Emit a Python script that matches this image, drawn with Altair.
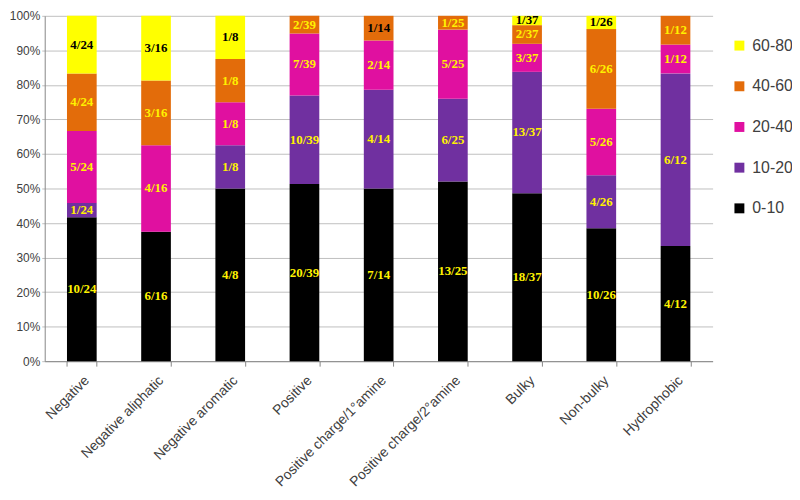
import altair as alt
import pandas as pd

categories = ["Negative", "Negative aliphatic", "Negative aromatic", "Positive",
              "Positive charge/1°amine", "Positive charge/2°amine", "Bulky",
              "Non-bulky", "Hydrophobic"]
series = ["0-10", "10-20", "20-40", "40-60", "60-80"]
s0_10 = [10, 6, 4, 20, 7, 13, 18, 10, 4]
s10_20 = [1, 0, 1, 10, 4, 6, 13, 4, 6]
s20_40 = [5, 4, 1, 7, 2, 5, 3, 5, 1]
s40_60 = [4, 3, 1, 2, 1, 1, 2, 6, 1]
s60_80 = [4, 3, 1, 0, 0, 0, 1, 1, 0]
values = [s0_10, s10_20, s20_40, s40_60, s60_80]
colors = {"0-10": "#000000", "10-20": "#7030A0", "20-40": "#E010A0",
          "40-60": "#E36C0A", "60-80": "#FFFF00"}
dark_labels = [("Positive charge/1°amine", "40-60")]
y_ticks = [0, 0.1, 0.2, 0.3, 0.4, 0.5, 0.6, 0.7, 0.8, 0.9, 1.0]

rows = []
for i, c in enumerate(categories):
    total = sum(v[i] for v in values)
    for j, s in enumerate(series):
        n = values[j][i]
        if n > 0:
            dark = s == "60-80" or (c, s) in dark_labels
            rows.append(dict(category=c, series=s, idx=j, n=n,
                             label=f"{n}/{total}",
                             tcolor="#000000" if dark else "#FFF200"))
df = pd.DataFrame(rows)

legend_order = series[::-1]

base = alt.Chart(df).transform_stack(
    stack="n", groupby=["category"], as_=["y0", "y1"], offset="normalize",
    sort=[alt.SortField("idx", order="ascending")]
).transform_calculate(mid="(datum.y0 + datum.y1) / 2")

xscale = alt.Scale(paddingInner=0.6, paddingOuter=0.3)
yscale = alt.Scale(domain=[0, 1])
xaxis = alt.Axis(title=None, labelAngle=-45,
                 labelFontSize=14, labelFont="Liberation Sans",
                 labelColor="#404040", tickBand="extent", tickSize=5,
                 tickColor="#868686", domainColor="#868686", labelPadding=7,
                 labelLimit=300, grid=False)
yaxis = alt.Axis(title=None, format=".0%", values=y_ticks,
                 labelOverlap=False,
                 labelFontSize=12, labelFont="Liberation Sans",
                 labelColor="#404040", gridColor="#BFBFBF",
                 domainColor="#868686", tickColor="#BFBFBF",
                 tickSize=3, labelPadding=2)

bars = base.mark_bar().encode(
    x=alt.X("category:N", sort=categories, scale=xscale, axis=xaxis),
    y=alt.Y("y0:Q", scale=yscale, axis=yaxis),
    y2="y1:Q",
    color=alt.Color("series:N",
                    scale=alt.Scale(domain=legend_order,
                                    range=[colors[s] for s in legend_order]),
                    legend=alt.Legend(title=None, orient="none", legendX=692,
                                      legendY=22, padding=0, symbolType="square",
                                      symbolSize=100, symbolStrokeWidth=0,
                                      labelFontSize=16, labelFont="Liberation Sans",
                                      labelColor="#404040", rowPadding=25,
                                      labelOffset=5)),
)

text = base.mark_text(font="Liberation Serif", fontWeight="bold", fontSize=13).encode(
    x=alt.X("category:N", sort=categories, scale=xscale, axis=xaxis),
    y=alt.Y("mid:Q", scale=yscale, axis=yaxis),
    text="label:N",
    color=alt.Color("tcolor:N", scale=None),
)

chart = alt.layer(bars, text).properties(
    width=673, height=348, autosize="none",
    padding={"left": 37, "top": 6, "right": 80, "bottom": 138},
).configure_view(stroke=None)

chart.save("out.html", embed_options={"renderer": "svg", "actions": False})
